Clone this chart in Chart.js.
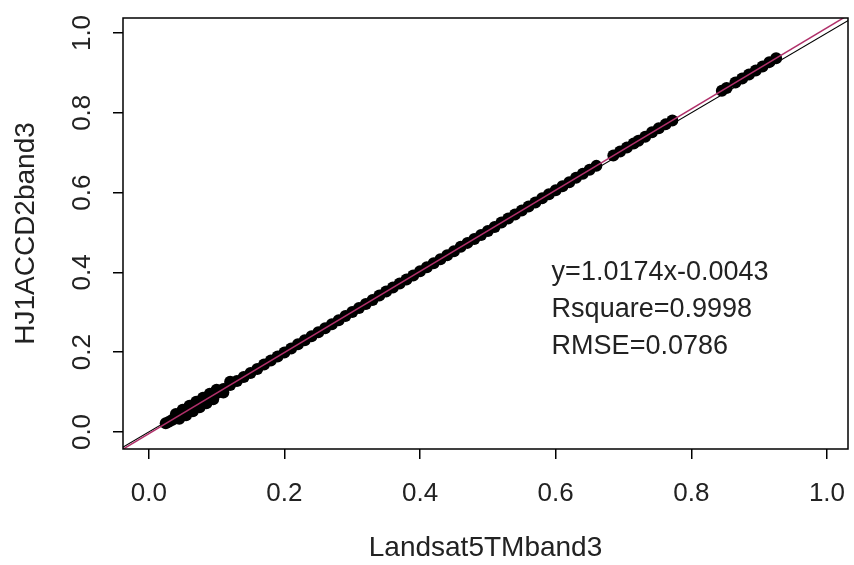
<!DOCTYPE html>
<html lang="en">
<head>
    <meta charset="UTF-8">
    <title>HJ1ACCD2band3 vs Landsat5TMband3</title>
    <script src="https://cdn.jsdelivr.net/npm/chart.js"></script>
    <style>
        html, body { margin: 0; padding: 0; background: #fff; }
        #wrap { position: relative; width: 854px; height: 565px; }
    </style>
</head>
<body>
<div id="wrap"><canvas id="scatterChart"></canvas></div>
<script>
// Axis setup
const X_MIN = -0.038, X_MAX = 1.031;
const Y_MIN = -0.0426, Y_MAX = 1.0376;
const tickValues = [0, 0.2, 0.4, 0.6, 0.8, 1.0];
const tickLabels = ['0.0', '0.2', '0.4', '0.6', '0.8', '1.0'];

// Main band of points
const bandX = [0.025, 0.03, 0.035, 0.04, 0.045, 0.05, 0.055, 0.06, 0.065, 0.07, 0.075, 0.08, 0.085, 0.09, 0.095,
    0.10, 0.11, 0.12, 0.13, 0.14, 0.15, 0.16, 0.17, 0.18, 0.19, 0.20, 0.21, 0.22, 0.23, 0.24, 0.25, 0.26, 0.27,
    0.28, 0.29, 0.30, 0.31, 0.32, 0.33, 0.34, 0.35, 0.36, 0.37, 0.38, 0.39, 0.40, 0.41, 0.42, 0.43, 0.44, 0.45,
    0.46, 0.47, 0.48, 0.49, 0.50, 0.51, 0.52, 0.53, 0.54, 0.55, 0.56, 0.57, 0.58, 0.59, 0.60, 0.61, 0.62, 0.63,
    0.64, 0.65, 0.66];
const bandY = [0.022, 0.026, 0.031, 0.036, 0.041, 0.046, 0.052, 0.057, 0.062, 0.067, 0.072, 0.077, 0.082, 0.087, 0.092,
    0.097, 0.108, 0.118, 0.128, 0.138, 0.148, 0.158, 0.169, 0.179, 0.189, 0.199, 0.209, 0.220, 0.230, 0.240, 0.250, 0.260, 0.270,
    0.280, 0.291, 0.301, 0.311, 0.321, 0.331, 0.342, 0.352, 0.362, 0.372, 0.382, 0.392, 0.403, 0.413, 0.423, 0.433, 0.443, 0.453,
    0.464, 0.474, 0.484, 0.494, 0.504, 0.514, 0.525, 0.535, 0.545, 0.555, 0.565, 0.575, 0.586, 0.596, 0.606, 0.616, 0.626, 0.637,
    0.647, 0.657, 0.667];

// Wider spread near the low end
const spreadX = [0.04, 0.05, 0.06, 0.07, 0.08, 0.09, 0.10, 0.12, 0.045, 0.055, 0.065, 0.075, 0.085, 0.095, 0.11];
const spreadY = [0.045, 0.056, 0.066, 0.076, 0.086, 0.096, 0.106, 0.126, 0.033, 0.042, 0.052, 0.062, 0.072, 0.082, 0.099];

// Isolated clusters at the high end
const highX = [0.685, 0.695, 0.705, 0.715, 0.722, 0.732, 0.742, 0.752, 0.762, 0.772,
    0.845, 0.852, 0.865, 0.875, 0.885, 0.895, 0.905, 0.915, 0.925];
const highY = [0.693, 0.703, 0.713, 0.723, 0.730, 0.740, 0.751, 0.761, 0.771, 0.781,
    0.855, 0.862, 0.876, 0.886, 0.896, 0.906, 0.916, 0.927, 0.937];

// Reference lines: 1:1 and fit y=1.0174x-0.0043
const oneX = [-0.05, 1.05];
const oneY = [-0.05, 1.05];
const fitX = [-0.05, 1.05];
const fitY = [-0.0552, 1.0640];

// Fit statistics text
const statLines = ['y=1.0174x-0.0043', 'Rsquare=0.9998', 'RMSE=0.0786'];
const statX = 0.594;
const statY = [0.400, 0.307, 0.214];

const zip = (xs, ys) => xs.map((x, i) => ({ x: x, y: ys[i] }));

const FONT = "'Liberation Sans', Arial, sans-serif";

// Box round the plot region plus the stats text
const boxAndText = {
    id: 'boxAndText',
    afterDatasetsDraw(chart) {
        const { ctx, chartArea, scales } = chart;
        ctx.save();
        ctx.strokeStyle = '#000';
        ctx.lineWidth = 1.5;
        ctx.strokeRect(chartArea.left, chartArea.top, chartArea.right - chartArea.left, chartArea.bottom - chartArea.top);
        ctx.fillStyle = '#222';
        ctx.font = '27px ' + FONT;
        ctx.textBaseline = 'middle';
        ctx.textAlign = 'left';
        statLines.forEach((t, i) => {
            ctx.fillText(t, scales.x.getPixelForValue(statX), scales.y.getPixelForValue(statY[i]));
        });
        ctx.restore();
    }
};

const setTicks = axis => { axis.ticks = tickValues.map(v => ({ value: v })); };
const tickLabel = v => tickLabels[tickValues.findIndex(t => Math.abs(t - v) < 1e-9)];

// fixed axis sizes so the plot box lands where it is in the picture
const fitX_axis = s => { s.height = 116; s.paddingLeft = 0; s.paddingRight = 0; };
const fitY_axis = s => { s.width = 123; s.paddingTop = 0; s.paddingBottom = 0; };

new Chart(document.getElementById('scatterChart'), {
    type: 'scatter',
    data: {
        datasets: [
            {
                label: 'fit',
                type: 'line',
                data: zip(fitX, fitY),
                borderColor: '#b0306a',
                borderWidth: 1.5,
                pointRadius: 0,
                showLine: true,
                order: 0
            },
            {
                label: '1:1',
                type: 'line',
                data: zip(oneX, oneY),
                borderColor: '#000',
                borderWidth: 1.2,
                pointRadius: 0,
                showLine: true,
                order: 1
            },
            {
                label: 'points',
                data: zip(bandX, bandY).concat(zip(spreadX, spreadY), zip(highX, highY)),
                backgroundColor: '#000',
                borderWidth: 0,
                pointRadius: 6,
                order: 2
            }
        ]
    },
    options: {
        responsive: true,
        maintainAspectRatio: false,
        animation: false,
        layout: { padding: { top: 18, right: 4, bottom: 0, left: 0 } },
        plugins: {
            legend: { display: false },
            tooltip: { enabled: false }
        },
        scales: {
            x: {
                type: 'linear',
                min: X_MIN,
                max: X_MAX,
                afterBuildTicks: setTicks,
                afterFit: fitX_axis,
                grid: { drawOnChartArea: false, drawTicks: true, tickLength: 10, color: '#000', lineWidth: 1.5 },
                border: { display: false },
                ticks: {
                    callback: tickLabel,
                    color: '#222',
                    padding: 19,
                    maxRotation: 0,
                    font: { family: FONT, size: 26 }
                },
                title: {
                    display: true,
                    text: 'Landsat5TMband3',
                    color: '#222',
                    padding: { top: 0, bottom: 0 },
                    font: { family: FONT, size: 28 }
                }
            },
            y: {
                type: 'linear',
                min: Y_MIN,
                max: Y_MAX,
                afterBuildTicks: setTicks,
                afterFit: fitY_axis,
                grid: { drawOnChartArea: false, drawTicks: true, tickLength: 10, color: '#000', lineWidth: 1.5 },
                border: { display: false },
                ticks: {
                    callback: tickLabel,
                    color: '#222',
                    padding: 12,
                    minRotation: 90,
                    maxRotation: 90,
                    crossAlign: 'center',
                    font: { family: FONT, size: 26 }
                },
                title: {
                    display: true,
                    text: 'HJ1ACCD2band3',
                    color: '#222',
                    padding: { top: 9, bottom: 0 },
                    font: { family: FONT, size: 28 }
                }
            }
        }
    },
    plugins: [boxAndText]
});
</script>
</body>
</html>
